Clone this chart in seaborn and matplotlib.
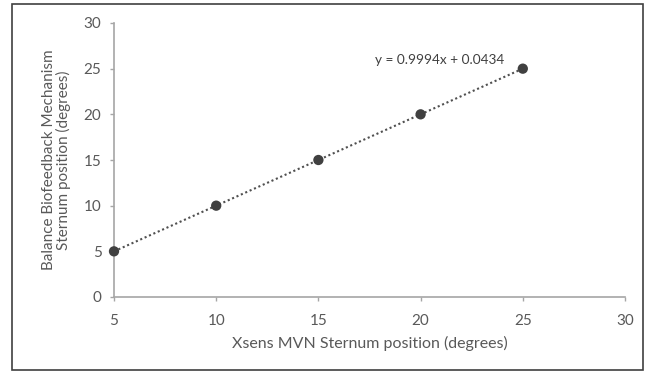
import numpy as np
import pandas as pd
import seaborn as sns
from matplotlib import pyplot as plt
from matplotlib.patches import Rectangle

sns.set_style('white')
plt.rcParams['font.family'] = ['Lato', 'DejaVu Sans']

# data
xsens = [5, 10, 15, 20, 25]
bbm = [5, 10, 15, 20, 25]
eq_text = 'y = 0.9994x + 0.0434'
xticks = [5, 10, 15, 20, 25, 30]
yticks = [0, 5, 10, 15, 20, 25, 30]

df = pd.DataFrame({'x': xsens, 'y': bbm})

fig = plt.figure(figsize=(6.49, 3.73), dpi=100)
ax = fig.add_axes([114/649, 1-297/373, (625-114)/649, (297-23)/373])

gray = '#a6a6a6'
txt = '#595959'

sns.regplot(data=df, x='x', y='y', ci=None, scatter=False, ax=ax,
            line_kws={'color': '#505050', 'linestyle': (0, (1, 1.3)), 'linewidth': 1.5})
sns.scatterplot(data=df, x='x', y='y', ax=ax, color='#404040', s=55,
                edgecolor='none', zorder=3, clip_on=False)

ax.text(20.95, 25.95, eq_text, fontsize=9.8, color='#404040', ha='center', va='center')

ax.set_xlim(5, 30)
ax.set_ylim(0, 30)
ax.set_xticks(xticks)
ax.set_yticks(yticks)
ax.tick_params(axis='both', direction='out', length=3, width=1, color=gray,
               labelsize=11, labelcolor=txt, pad=6, bottom=True, left=True)
ax.tick_params(axis='x', pad=9)
for s in ['top', 'right']:
    ax.spines[s].set_visible(False)
for s in ['left', 'bottom']:
    ax.spines[s].set_color(gray)
    ax.spines[s].set_linewidth(1.2)

ax.set_xlabel('Xsens MVN Sternum position (degrees)', fontsize=11.5, color=txt, labelpad=6)
ax.set_ylabel('Balance Biofeedback Mechanism\nSternum position (degrees)', fontsize=11,
              color=txt, labelpad=9, linespacing=1.05)

fig.patches.append(Rectangle((12/649, 3/373), 631/649, 366/373, transform=fig.transFigure,
                             fill=False, edgecolor='#404040', linewidth=1.2))

fig.savefig('out.png', dpi=100)
